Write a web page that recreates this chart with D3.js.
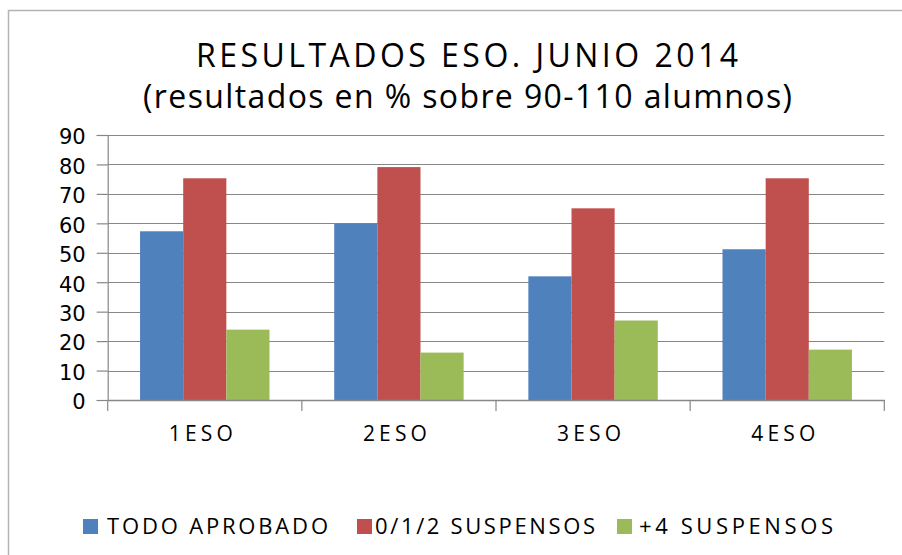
<!DOCTYPE html>
<html>
<head>
<meta charset="utf-8">
<script src="https://cdn.jsdelivr.net/npm/d3@7"></script>
<style>
  body { margin: 0; background: #fff; }
  svg { display: block; }
</style>
</head>
<body>
<div id="chart"></div>
<script>
const categories = ['1ESO', '2ESO', '3ESO', '4ESO'];
const series = ['TODO APROBADO', '0/1/2 SUSPENSOS', '+4 SUSPENSOS'];
const todoAprobado = [57.3, 59.9, 42.0, 51.2];
const suspensos012 = [75.3, 79.1, 65.1, 75.3];
const suspensos4 = [23.9, 16.1, 27.0, 17.1];
const yTicks = [0, 10, 20, 30, 40, 50, 60, 70, 80, 90];
const titleLines = ['RESULTADOS ESO. JUNIO 2014', '(resultados en % sobre 90-110 alumnos)'];

const seriesValues = [todoAprobado, suspensos012, suspensos4];

const makePlot = () => {
  const container = d3.select('#chart');
  container.selectAll('*').remove();

  const size = { width: 902, height: 555 };
  const margin = { top: 135, right: 17.7, bottom: 155, left: 107.7 };

  const svg = container
    .append('svg')
    .attr('width', size.width)
    .attr('height', size.height);

  const colors = {
    'TODO APROBADO': '#4f81bd',
    '0/1/2 SUSPENSOS': '#c0504d',
    '+4 SUSPENSOS': '#9bbb59',
  };

  // chart frame (right / bottom edges fall outside the picture)
  svg
    .append('rect')
    .attr('x', 8.5)
    .attr('y', 10.5)
    .attr('width', 920)
    .attr('height', 600)
    .attr('fill', 'none')
    .attr('stroke', '#b3b3b3')
    .attr('stroke-width', 1.5);

  // title
  const titleWidths = [542, 649];
  const titleBase = [67, 108];
  svg
    .selectAll('text.title')
    .data(titleLines)
    .enter()
    .append('text')
    .attr('class', 'title')
    .attr('x', (d, i) => (i === 0 ? 196 : 143))
    .attr('y', (d, i) => titleBase[i])
    .attr('textLength', (d, i) => titleWidths[i])
    .attr('lengthAdjust', 'spacing')
    .style('font-family', '"Open Sans", sans-serif')
    .style('font-size', '32px')
    .attr('fill', '#000')
    .text((d) => d);

  const x0 = d3
    .scaleBand()
    .domain(categories)
    .range([margin.left, size.width - margin.right])
    .padding(0);

  const x1 = d3
    .scaleBand()
    .domain(series)
    .range([0, x0.bandwidth()])
    .paddingInner(0)
    .paddingOuter(0.75);

  const y = d3
    .scaleLinear()
    .domain([0, 90])
    .range([size.height - margin.bottom, margin.top]);

  // gridlines
  svg
    .append('g')
    .selectAll('line')
    .data(yTicks.filter((t) => t > 0))
    .enter()
    .append('line')
    .attr('x1', margin.left)
    .attr('x2', size.width - margin.right)
    .attr('y1', (d) => Math.round(y(d)) + 0.5)
    .attr('y2', (d) => Math.round(y(d)) + 0.5)
    .attr('stroke', '#878787')
    .attr('stroke-width', 1.2);

  // bars
  const groups = svg
    .append('g')
    .selectAll('g')
    .data(categories)
    .enter()
    .append('g')
    .attr('transform', (d) => `translate(${x0(d)},0)`);

  groups
    .selectAll('rect')
    .data((d, ci) => series.map((s, si) => ({ s, v: seriesValues[si][ci] })))
    .enter()
    .append('rect')
    .attr('x', (d) => x1(d.s))
    .attr('width', x1.bandwidth())
    .attr('y', (d) => y(d.v))
    .attr('height', (d) => y(0) - y(d.v))
    .attr('fill', (d) => colors[d.s]);

  // y axis
  const yAxis = svg
    .append('g')
    .attr('transform', `translate(${margin.left},0)`)
    .call(d3.axisLeft(y).tickValues(yTicks).tickSize(11).tickPadding(11));
  yAxis.select('.domain').attr('stroke', '#878787').attr('stroke-width', 1.2);
  yAxis.selectAll('.tick line').attr('stroke', '#878787').attr('stroke-width', 1.2);
  yAxis
    .selectAll('.tick text')
    .attr('dy', '0.42em')
    .style('font-family', '"DejaVu Sans", sans-serif')
    .style('font-size', '21px')
    .attr('fill', '#000');

  // x axis
  const xAxis = svg
    .append('g')
    .attr('transform', `translate(0,${y(0)})`)
    .call(d3.axisBottom(x0).tickSize(0).tickPadding(0));
  xAxis.select('.domain').attr('stroke', '#878787').attr('stroke-width', 1.5);
  xAxis.selectAll('.tick text').remove();

  // category separator ticks
  const sepTicks = [...categories.map((c) => x0(c)), size.width - margin.right];
  xAxis
    .selectAll('line.sep')
    .data(sepTicks)
    .enter()
    .append('line')
    .attr('class', 'sep')
    .attr('x1', (d) => d)
    .attr('x2', (d) => d)
    .attr('y1', 0)
    .attr('y2', 11)
    .attr('stroke', '#878787')
    .attr('stroke-width', 1.2);

  xAxis
    .selectAll('text.cat')
    .data(categories)
    .enter()
    .append('text')
    .attr('class', 'cat')
    .attr('text-anchor', 'start')
    .attr('x', (d) => x0(d) + x0.bandwidth() / 2 - 36)
    .attr('y', 41)
    .attr('textLength', 64)
    .attr('lengthAdjust', 'spacing')
    .style('font-family', '"Open Sans", sans-serif')
    .style('font-size', '21px')
    .attr('fill', '#000')
    .text((d) => d);

  // legend
  const legendPos = [
    { sq: 83, tx: 107, w: 221 },
    { sq: 357, tx: 375, w: 220 },
    { sq: 617, tx: 639, w: 194 },
  ];
  const legend = svg
    .append('g')
    .selectAll('g')
    .data(series)
    .enter()
    .append('g');

  legend
    .append('rect')
    .attr('x', (d, i) => legendPos[i].sq)
    .attr('y', 519)
    .attr('width', 15)
    .attr('height', 15)
    .attr('fill', (d) => colors[d]);

  legend
    .append('text')
    .attr('x', (d, i) => legendPos[i].tx)
    .attr('y', 534)
    .attr('textLength', (d, i) => legendPos[i].w)
    .attr('lengthAdjust', 'spacing')
    .style('font-family', '"Open Sans", sans-serif')
    .style('font-size', '22px')
    .attr('fill', '#000')
    .text((d) => d);
};

makePlot();
</script>
</body>
</html>
